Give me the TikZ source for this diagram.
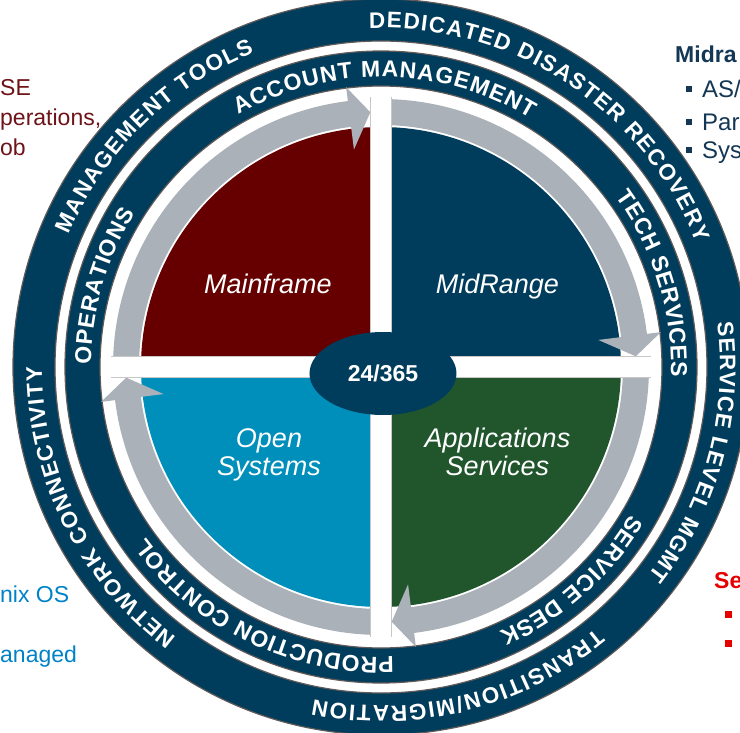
\documentclass[tikz,border=0pt]{standalone}
\usepackage{fontspec}
\setmainfont{Liberation Sans}
\usetikzlibrary{decorations.text,shapes.geometric}

\definecolor{ringblue}{RGB}{0,61,92}
\definecolor{mfred}{RGB}{102,0,0}
\definecolor{osblue}{RGB}{0,143,186}
\definecolor{asgreen}{RGB}{33,86,45}
\definecolor{arrowgray}{RGB}{170,177,184}
\definecolor{ringedge}{RGB}{96,90,88}
\definecolor{sidered}{RGB}{110,20,25}
\definecolor{sidenavy}{RGB}{20,55,85}
\definecolor{sideblue}{RGB}{0,130,200}
\definecolor{sidebright}{RGB}{230,0,0}

\newcommand\outerfont{\color{white}\fontsize{22.5}{23}\selectfont\bfseries}
\newcommand\innerfont{\color{white}\fontsize{23}{23}\selectfont\bfseries}

\def\ringlabel[#1](#2:#3:#4)#5{\path[decorate,decoration={text along path,text align=fit to path,text={|#1|#5}}] (#2:#4) arc (#2:#3:#4);}
\def\grayarrow(#1){\fill[arrowgray] (#1:268) arc[start angle=#1, end angle=#1-82.9, radius=268] -- ({#1-82.9}:282) -- ({#1-87.6}:255) -- ({#1-82.9}:219) -- ({#1-82.9}:242) arc[start angle=#1-82.9, end angle=#1, radius=242] -- cycle;}

\begin{document}
\begin{tikzpicture}[x=1pt,y=1pt,
	quadlabel/.style={text=white, align=center, inner sep=0pt, font=\fontsize{27}{28}\selectfont\itshape},
	sidetext/.style={anchor=base west, inner sep=0pt, font=\fontsize{23}{23}\selectfont},
	hub/.style={ellipse, fill=ringblue, minimum width=147pt, minimum height=83pt, inner sep=0pt, text=white, font=\fontsize{23}{23}\selectfont\bfseries},
	crossline/.style={draw=black!22, line width=0.8pt}]
		%%%%% START %%%%%
		
		\useasboundingbox (-381,-365) rectangle (359,367);
		\fill[white] (-381,-365) rectangle (359,367);
		
		% rings
		\fill[ringblue, even odd rule] (0,0) circle (368) (0,0) circle (326);
		\draw[ringedge, line width=1.2pt] (0,0) circle (368) (0,0) circle (326);
		\fill[ringblue, even odd rule] (0,0) circle (316) (0,0) circle (281);
		\draw[ringedge, line width=1.2pt] (0,0) circle (316) (0,0) circle (281);
		
		% quadrants
		\fill[mfred] (0,0) -- (180:240) arc[start angle=180, end angle=90, radius=240] -- cycle;
		\fill[ringblue] (0,0) -- (90:240) arc[start angle=90, end angle=0, radius=240] -- cycle;
		\fill[asgreen] (0,0) -- (0:240) arc[start angle=0, end angle=-90, radius=240] -- cycle;
		\fill[osblue] (0,0) -- (-90:240) arc[start angle=-90, end angle=-180, radius=240] -- cycle;
		
		% arrows, clockwise
		\grayarrow(180)
		\grayarrow(90)
		\grayarrow(0)
		\grayarrow(-90)
		
		% white cross
		\fill[white] (-10.5,-276) rectangle (10.5,276);
		\fill[white] (-276,-10.5) rectangle (276,10.5);
		\foreach \a in {0,90,180,270} {
			\draw[crossline, rotate=\a] (10.5,10.5) -- (10.5,270) (-10.5,10.5) -- (-10.5,270);
		}
		
		\node[hub] (hub) at (2,-6.5) {24/365};
		
		\node[quadlabel, anchor=base] (mainframe) at (-113,74) {Mainframe};
		\node[quadlabel, anchor=base] (midrange) at (116.5,74) {MidRange};
		\node[quadlabel] (opensys) at (-112,-88) {Open\\Systems};
		\node[quadlabel] (appsvc) at (116.5,-85) {Applications\\Services};
		
		% outer ring texts
		\ringlabel[\outerfont](233:180:339){NETWORK CONNECTIVITY}
		\ringlabel[\outerfont](157:112:339){MANAGEMENT TOOLS}
		\ringlabel[\outerfont](92:21.5:339){DEDICATED DISASTER RECOVERY}
		\ringlabel[\outerfont](7.5:-38:339){SERVICE LEVEL MGMT}
		\ringlabel[\outerfont](-50.5:-101.5:339){TRANSITION/MIGRATION}
		
		% inner ring texts
		\ringlabel[\innerfont](179.5:148:290){OPERATIONS}
		\ringlabel[\innerfont](119.5:59:290){ACCOUNT MANAGEMENT}
		\ringlabel[\innerfont](36:-2:290){TECH SERVICES}
		\ringlabel[\innerfont](-30.5:-66:290){SERVICE DESK}
		\ringlabel[\innerfont](-87.5:-144:290){PRODUCTION CONTROL}
		
		% side texts
		\node[sidetext, text=sidered] (mfse) at (-381,272) {SE};
		\node[sidetext, text=sidered] (mfops) at (-381,242) {perations,};
		\node[sidetext, text=sidered] (mfjob) at (-381,212) {ob};
		
		\node[sidetext, text=sidenavy, font=\fontsize{23}{23}\selectfont\bfseries] (mrhead) at (294,305) {Midra};
		\fill[sidenavy] (304.5,275.5) rectangle ++(6,6);
		\node[sidetext, text=sidenavy, font=\fontsize{24}{24}\selectfont] (mras) at (321,270) {AS/};
		\fill[sidenavy] (304.5,242.5) rectangle ++(6,6);
		\node[sidetext, text=sidenavy, font=\fontsize{24}{24}\selectfont] (mrpar) at (321,237) {Par};
		\fill[sidenavy] (304.5,214) rectangle ++(6,6);
		\node[sidetext, text=sidenavy, font=\fontsize{24}{24}\selectfont] (mrsys) at (321,209) {Sys};
		
		\node[sidetext, text=sideblue] (osnix) at (-381,-235) {nix OS};
		\node[sidetext, text=sideblue] (osman) at (-381,-295) {anaged};
		
		\node[sidetext, text=sidebright, font=\fontsize{23}{23}\selectfont\bfseries] (svhead) at (333,-221) {Se};
		\fill[sidebright] (344,-251) rectangle ++(7,7);
		\fill[sidebright] (344,-280) rectangle ++(7,7);
		
		%%%%% END %%%%%
	\end{tikzpicture}
\end{document}
